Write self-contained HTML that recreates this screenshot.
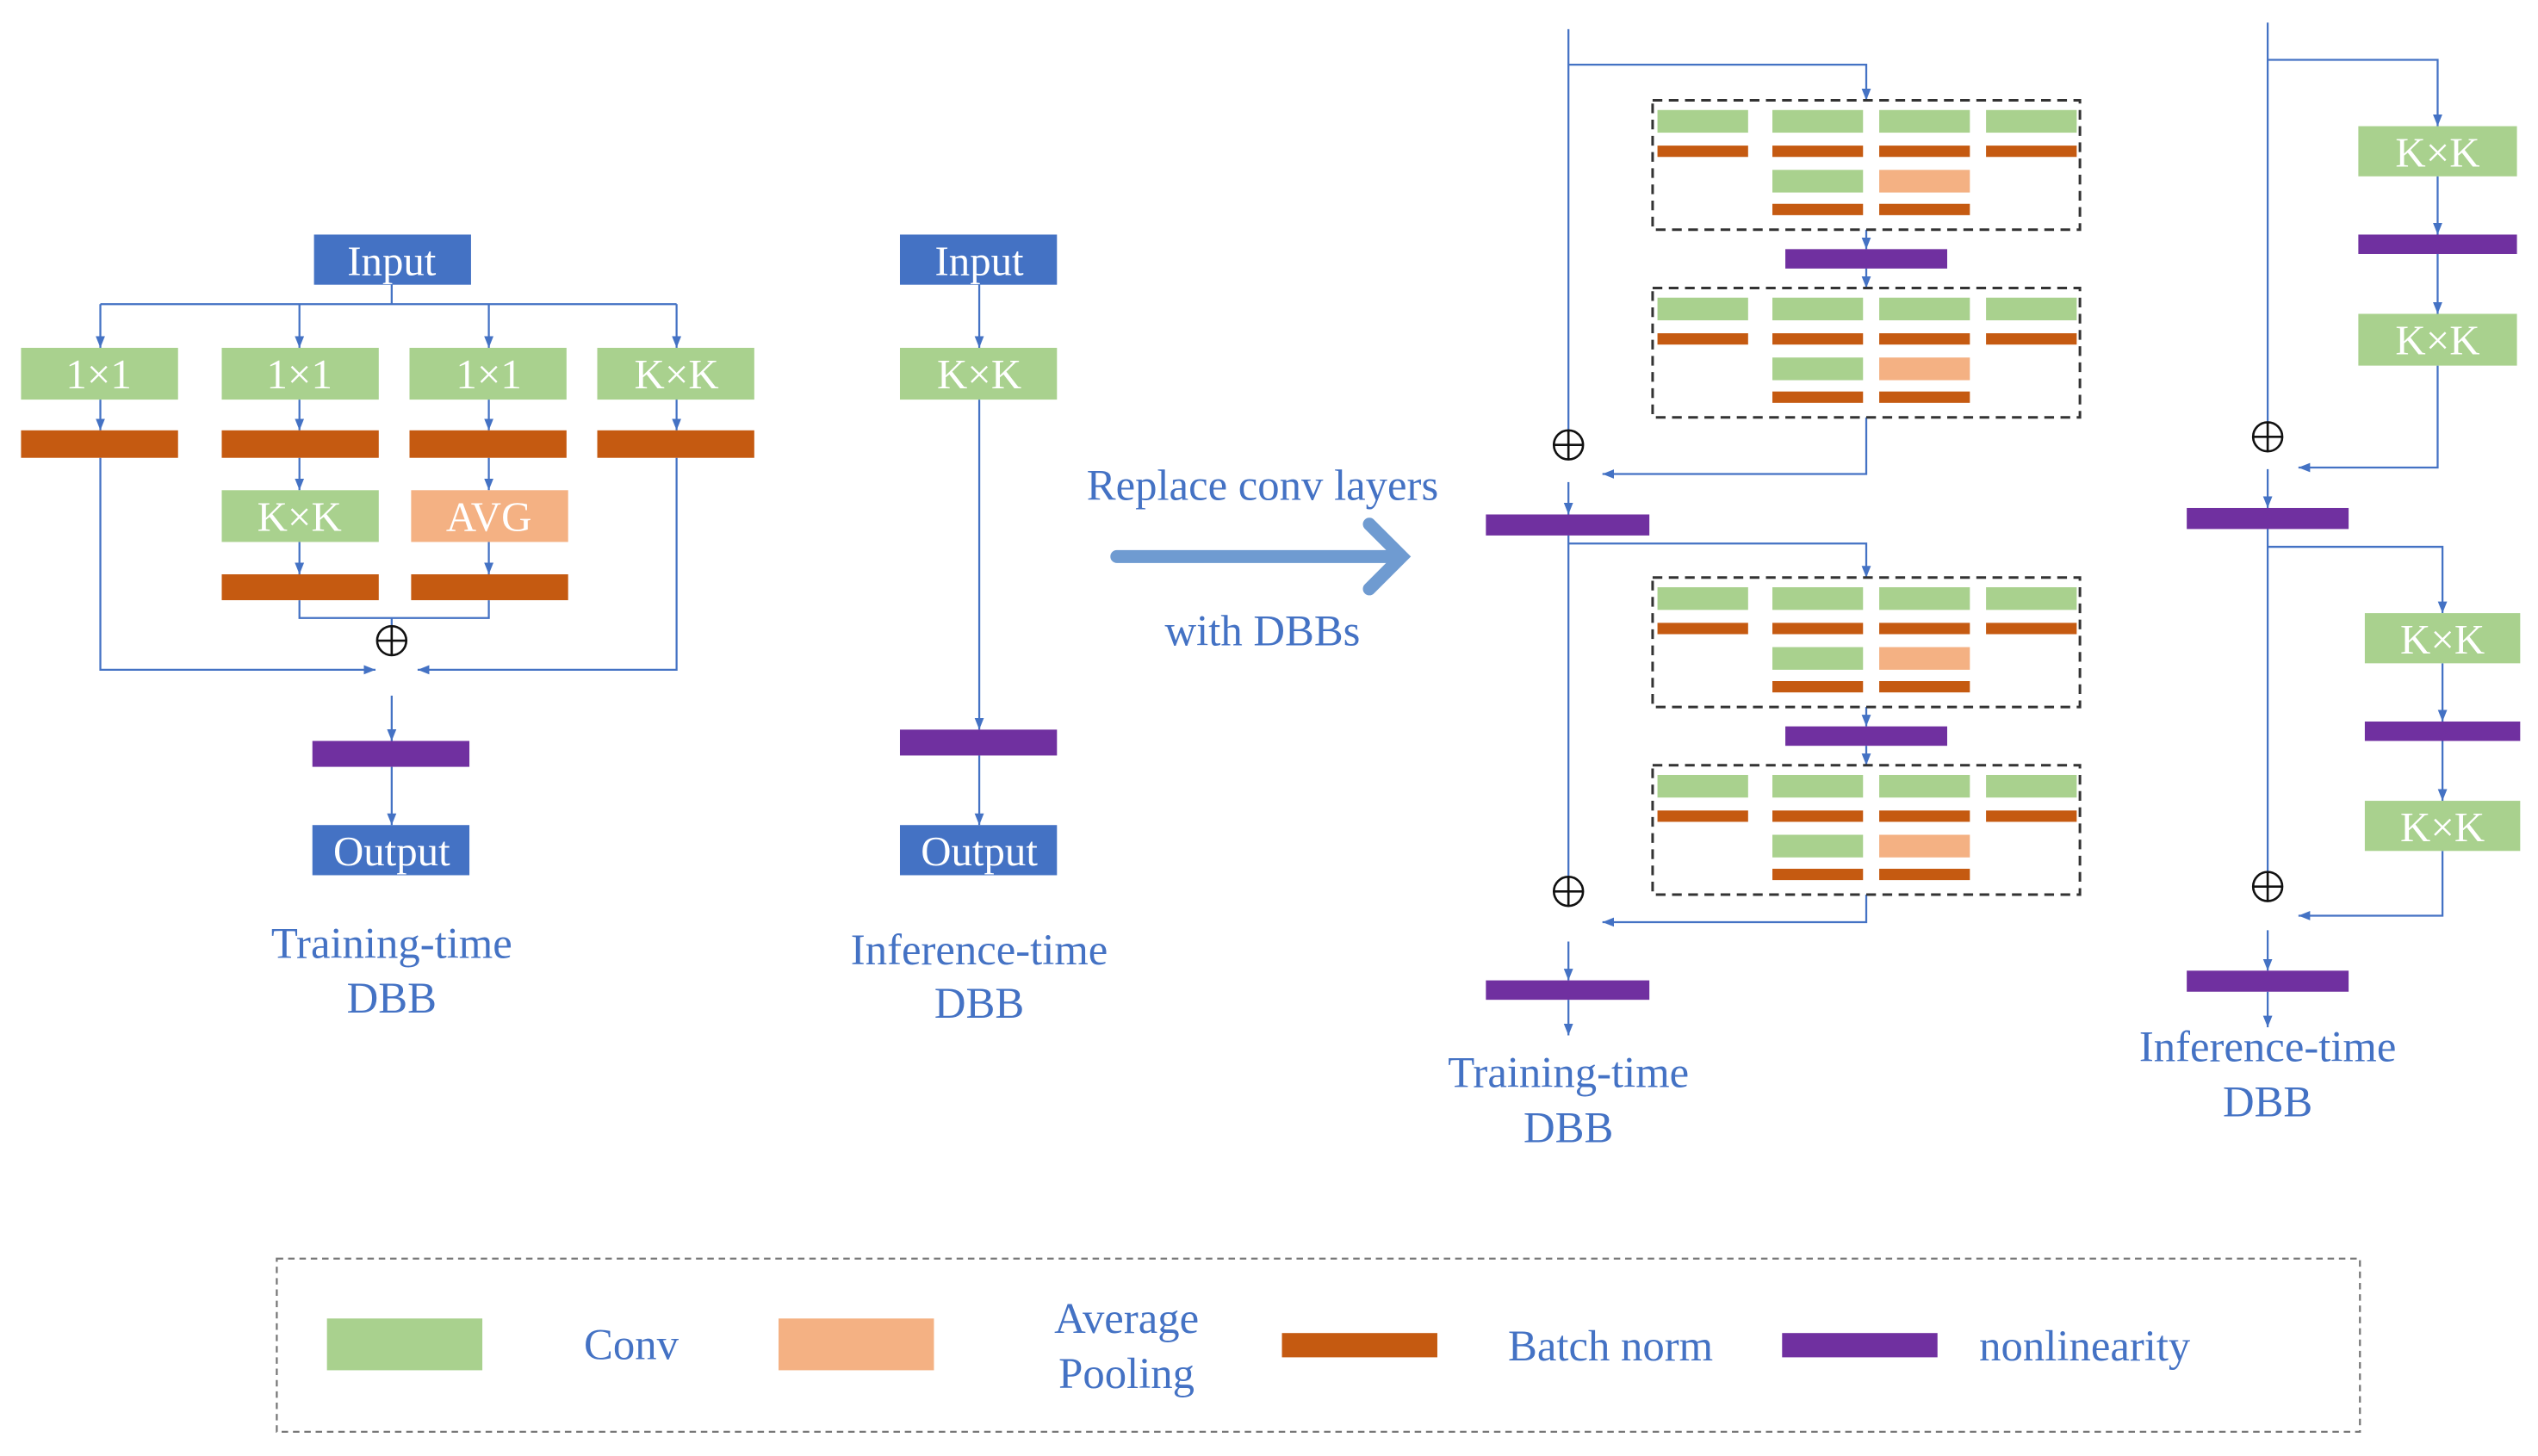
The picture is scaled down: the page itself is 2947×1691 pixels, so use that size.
<!DOCTYPE html>
<html><head><meta charset="utf-8"><style>
html,body{margin:0;padding:0;background:#fff}
svg{display:block}
text{font-family:"Liberation Serif",serif}
</style></head><body>
<svg width="2947" height="1691" viewBox="0 0 1568 900" preserveAspectRatio="none" xmlns="http://www.w3.org/2000/svg">
<defs>
<marker id="a" viewBox="0 0 10 10" refX="10" refY="5" markerWidth="6" markerHeight="6" orient="auto"><path d="M0,1 L10,5 L0,9 z" fill="#4472C4"/></marker>
<g id="blk">
<rect x="1021" y="0" width="264" height="80" fill="none" stroke="#333" stroke-width="1.6" stroke-dasharray="6,4"/>
<rect x="1024" y="6" width="56" height="14" fill="#A9D18E"/>
<rect x="1095" y="6" width="56" height="14" fill="#A9D18E"/>
<rect x="1161" y="6" width="56" height="14" fill="#A9D18E"/>
<rect x="1227" y="6" width="56" height="14" fill="#A9D18E"/>
<rect x="1024" y="28" width="56" height="7" fill="#C55A11"/>
<rect x="1095" y="28" width="56" height="7" fill="#C55A11"/>
<rect x="1161" y="28" width="56" height="7" fill="#C55A11"/>
<rect x="1227" y="28" width="56" height="7" fill="#C55A11"/>
<rect x="1095" y="43" width="56" height="14" fill="#A9D18E"/>
<rect x="1161" y="43" width="56" height="14" fill="#F4B183"/>
<rect x="1095" y="64" width="56" height="7" fill="#C55A11"/>
<rect x="1161" y="64" width="56" height="7" fill="#C55A11"/>
</g>
<g id="oplus"><circle r="9" fill="#fff" stroke="#111" stroke-width="1.4"/><path d="M-9,0H9M0,-9V9" stroke="#111" stroke-width="1.4"/></g>
</defs>
<g fill="none" stroke="#4472C4" stroke-width="1.2">
<path d="M242,176V188M62,188H418"/>
<path d="M62,188V215" marker-end="url(#a)"/><path d="M185,188V215" marker-end="url(#a)"/><path d="M302,188V215" marker-end="url(#a)"/><path d="M418,188V215" marker-end="url(#a)"/>
<path d="M62,247V266" marker-end="url(#a)"/><path d="M185,247V266" marker-end="url(#a)"/><path d="M302,247V266" marker-end="url(#a)"/><path d="M418,247V266" marker-end="url(#a)"/>
<path d="M185,283V303" marker-end="url(#a)"/><path d="M302,283V303" marker-end="url(#a)"/>
<path d="M185,335V355" marker-end="url(#a)"/><path d="M302,335V355" marker-end="url(#a)"/>
<path d="M185,371V382H302V371M242,382V396"/>
<path d="M62,283V414H232" marker-end="url(#a)"/><path d="M418,283V414H258" marker-end="url(#a)"/>
<path d="M242,430V458" marker-end="url(#a)"/><path d="M242,474V510" marker-end="url(#a)"/>
<path d="M605,176V215" marker-end="url(#a)"/><path d="M605,247V451" marker-end="url(#a)"/><path d="M605,467V510" marker-end="url(#a)"/>
<path d="M969,18V275"/>
<path d="M969,40H1153V62" marker-end="url(#a)"/>
<path d="M1153,142V154" marker-end="url(#a)"/><path d="M1153,166V178" marker-end="url(#a)"/>
<path d="M1153,258V293H990" marker-end="url(#a)"/>
<path d="M969,298V318" marker-end="url(#a)"/>
<path d="M969,331V551"/>
<path d="M969,336H1153V357" marker-end="url(#a)"/>
<path d="M1153,437V449" marker-end="url(#a)"/><path d="M1153,461V473" marker-end="url(#a)"/>
<path d="M1153,553V570H990" marker-end="url(#a)"/>
<path d="M969,582V606" marker-end="url(#a)"/><path d="M969,618V640" marker-end="url(#a)"/>
<path d="M1401,14V270"/>
<path d="M1401,37H1506V78" marker-end="url(#a)"/>
<path d="M1506,109V145" marker-end="url(#a)"/><path d="M1506,157V194" marker-end="url(#a)"/>
<path d="M1506,226V289H1420" marker-end="url(#a)"/>
<path d="M1401,290V314" marker-end="url(#a)"/>
<path d="M1401,327V548"/>
<path d="M1401,338H1509V379" marker-end="url(#a)"/>
<path d="M1509,410V446" marker-end="url(#a)"/><path d="M1509,458V495" marker-end="url(#a)"/>
<path d="M1509,526V566H1420" marker-end="url(#a)"/>
<path d="M1401,575V600" marker-end="url(#a)"/><path d="M1401,613V635" marker-end="url(#a)"/>
</g>
<rect x="194" y="145" width="97" height="31" fill="#4472C4"/>
<rect x="13" y="215" width="97" height="32" fill="#A9D18E"/><rect x="137" y="215" width="97" height="32" fill="#A9D18E"/><rect x="253" y="215" width="97" height="32" fill="#A9D18E"/><rect x="369" y="215" width="97" height="32" fill="#A9D18E"/>
<rect x="13" y="266" width="97" height="17" fill="#C55A11"/><rect x="137" y="266" width="97" height="17" fill="#C55A11"/><rect x="253" y="266" width="97" height="17" fill="#C55A11"/><rect x="369" y="266" width="97" height="17" fill="#C55A11"/>
<rect x="137" y="303" width="97" height="32" fill="#A9D18E"/><rect x="254" y="303" width="97" height="32" fill="#F4B183"/>
<rect x="137" y="355" width="97" height="16" fill="#C55A11"/><rect x="254" y="355" width="97" height="16" fill="#C55A11"/>
<use href="#oplus" x="242" y="396"/>
<rect x="193" y="458" width="97" height="16" fill="#7030A0"/>
<rect x="193" y="510" width="97" height="31" fill="#4472C4"/>
<rect x="556" y="145" width="97" height="31" fill="#4472C4"/>
<rect x="556" y="215" width="97" height="32" fill="#A9D18E"/>
<rect x="556" y="451" width="97" height="16" fill="#7030A0"/>
<rect x="556" y="510" width="97" height="31" fill="#4472C4"/>
<path d="M690,344H862" stroke="#6F9BD1" stroke-width="8" stroke-linecap="round"/>
<path d="M846,324L866,344L846,364" fill="none" stroke="#6F9BD1" stroke-width="8" stroke-linecap="round"/>
<use href="#blk" y="62"/><use href="#blk" y="178"/><use href="#blk" y="357"/><use href="#blk" y="473"/>
<rect x="1103" y="154" width="100" height="12" fill="#7030A0"/>
<rect x="1103" y="449" width="100" height="12" fill="#7030A0"/>
<rect x="918" y="318" width="101" height="13" fill="#7030A0"/>
<rect x="918" y="606" width="101" height="12" fill="#7030A0"/>
<use href="#oplus" x="969" y="275"/><use href="#oplus" x="969" y="551"/>
<rect x="1457" y="78" width="98" height="31" fill="#A9D18E"/>
<rect x="1457" y="145" width="98" height="12" fill="#7030A0"/>
<rect x="1457" y="194" width="98" height="32" fill="#A9D18E"/>
<rect x="1351" y="314" width="100" height="13" fill="#7030A0"/>
<rect x="1461" y="379" width="96" height="31" fill="#A9D18E"/>
<rect x="1461" y="446" width="96" height="12" fill="#7030A0"/>
<rect x="1461" y="495" width="96" height="31" fill="#A9D18E"/>
<rect x="1351" y="600" width="100" height="13" fill="#7030A0"/>
<use href="#oplus" x="1401" y="270"/><use href="#oplus" x="1401" y="548"/>
<rect x="171" y="778" width="1287" height="107" fill="none" stroke="#777" stroke-width="1.2" stroke-dasharray="4,3"/>
<rect x="202" y="815" width="96" height="32" fill="#A9D18E"/>
<rect x="481" y="815" width="96" height="32" fill="#F4B183"/>
<rect x="792" y="824" width="96" height="15" fill="#C55A11"/>
<rect x="1101" y="824" width="96" height="15" fill="#7030A0"/>
<g fill="#fff" font-size="26" text-anchor="middle">
<text x="242" y="170">Input</text><text x="605" y="170">Input</text>
<text x="242" y="535">Output</text><text x="605" y="535">Output</text>
<text x="61" y="240">1×1</text><text x="185" y="240">1×1</text><text x="302" y="240">1×1</text><text x="418" y="240">K×K</text>
<text x="185" y="328">K×K</text><text x="302" y="328">AVG</text>
<text x="605" y="240">K×K</text>
<text x="1506" y="103">K×K</text><text x="1506" y="219">K×K</text><text x="1509" y="404">K×K</text><text x="1509" y="520">K×K</text>
</g>
<g fill="#4472C4" font-size="27" text-anchor="middle">
<text x="242" y="592">Training-time</text><text x="242" y="626">DBB</text>
<text x="605" y="596">Inference-time</text><text x="605" y="629">DBB</text>
<text x="780" y="309">Replace conv layers</text><text x="780" y="399">with DBBs</text>
<text x="969" y="672">Training-time</text><text x="969" y="706">DBB</text>
<text x="1401" y="656">Inference-time</text><text x="1401" y="690">DBB</text>
<text x="390" y="840">Conv</text>
<text x="696" y="824">Average</text><text x="696" y="858">Pooling</text>
<text x="995" y="841">Batch norm</text>
<text x="1288" y="841">nonlinearity</text>
</g>
</svg>
</body></html>
